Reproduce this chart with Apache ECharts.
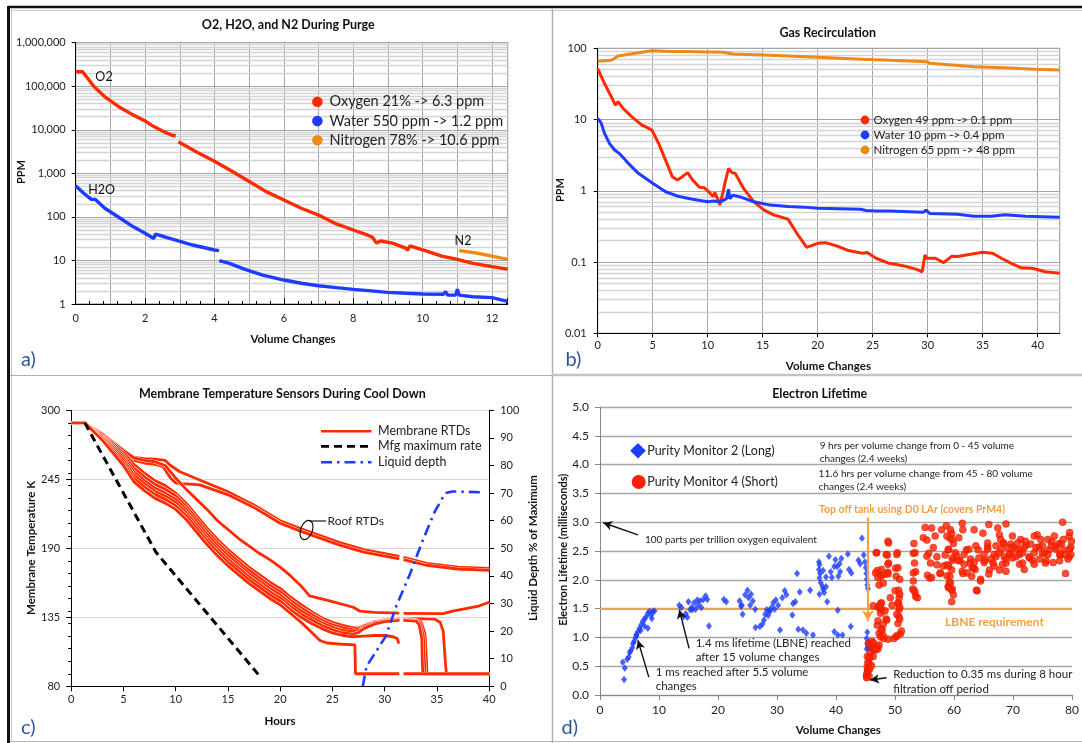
<!DOCTYPE html>
<html><head><meta charset="utf-8">
<script src="https://cdn.jsdelivr.net/npm/echarts@6.0.0/dist/echarts.min.js"></script>
<style>html,body{margin:0;padding:0;background:#fff}#c{width:1082px;height:743px}</style>
</head><body><div id="c"></div>
<script>
// ---------- Panel a: O2, H2O, N2 during purge (x: volume changes, y: ppm, log) ----------
const aNames = ['Oxygen 21% -> 6.3 ppm', 'Water 550 ppm -> 1.2 ppm', 'Nitrogen 78% -> 10.6 ppm'];
const aO2 = [[0,215000],[0.2,215000],[0.35,150000],[0.52,100000],[0.84,57000],[1.24,34000],[1.65,22000],[2.0,16000],[2.2,12500],[2.36,10700],[2.6,8600],[2.76,7600],[2.88,7200],[2.92,'-'],[2.96,5300],[3.47,3150],[4.0,1900],[4.48,1150],[5.0,650],[5.49,380],[6.0,245],[6.5,158],[7.0,110],[7.51,69],[8.0,50],[8.42,38],[8.55,34],[8.67,25],[8.78,28],[9.13,25],[9.53,19],[9.56,17],[9.63,21.5],[10.0,17.4],[10.55,12.6],[11.0,10.6],[11.45,8.6],[12.0,7.2],[12.45,6.3]];
const aH2O = [[0,520],[0.23,350],[0.45,253],[0.56,253],[0.84,158],[1.24,98],[1.65,60],[2.0,42],[2.25,32],[2.3,40],[2.56,35],[2.86,29.6],[3.37,22.6],[4.0,17.4],[4.13,16.8],[4.135,'-'],[4.14,9.9],[4.43,8.6],[4.88,6.25],[5.39,4.6],[6.0,3.55],[6.5,3.0],[7.0,2.63],[7.51,2.37],[8.0,2.17],[8.52,2.0],[8.98,1.85],[9.53,1.76],[10.0,1.7],[10.6,1.67],[10.66,1.92],[10.72,1.6],[10.95,1.6],[11.0,2.17],[11.05,1.6],[11.45,1.47],[12.0,1.4],[12.45,1.15]];
const aN2 = [[11.05,16.8],[11.5,15],[12.0,12.6],[12.45,10.6]];

// ---------- Panel b: gas recirculation ----------
const bNames = ['Oxygen 49 ppm -> 0.1 ppm', 'Water 10 ppm -> 0.4 ppm', 'Nitrogen 65 ppm -> 48 ppm'];
const bN2 = [[0,66],[1.23,68],[1.54,72.5],[1.85,78],[3.4,85],[4.93,92.7],[6.5,90],[8.0,90],[9.9,89],[11.4,88],[12.3,83],[15.1,80.6],[20.0,74.8],[24.05,70],[26.5,67.7],[29.9,65],[30.2,61.6],[34.2,55],[37.0,53.5],[39.8,50.7],[42,49.6]];
const bO2 = [[0,52],[0.62,32],[1.23,21],[1.6,16],[1.85,17.8],[2.3,14.4],[3.08,11],[4.0,8.4],[4.93,7.1],[5.55,4.6],[6.17,2.7],[6.78,1.58],[7.25,1.42],[7.7,1.58],[8.17,1.8],[8.63,1.42],[9.25,1.12],[9.7,1.1],[10.18,0.94],[10.5,0.83],[10.65,0.94],[10.95,0.74],[11.1,0.63],[11.4,0.97],[11.56,1.27],[11.7,1.35],[11.9,2.07],[12.2,1.8],[12.5,1.76],[13.26,1.08],[14.2,0.7],[15.1,0.54],[16.0,0.46],[17.3,0.40],[18.2,0.24],[19.0,0.161],[20.0,0.183],[20.7,0.187],[21.9,0.165],[22.8,0.145],[24.05,0.133],[24.5,0.136],[25.3,0.113],[26.5,0.096],[27.75,0.089],[29.0,0.079],[29.5,0.073],[29.75,0.126],[29.9,0.113],[30.7,0.113],[31.45,0.098],[32.2,0.121],[32.7,0.12],[33.9,0.129],[35.0,0.137],[35.9,0.133],[36.7,0.113],[37.6,0.096],[38.5,0.083],[39.5,0.082],[40.7,0.073],[42,0.0695]];
const bH2O = [[0,10.4],[0.3,9.05],[0.62,6.4],[1.08,4.6],[1.54,3.74],[2.0,3.3],[2.78,2.43],[3.7,1.76],[4.93,1.3],[6.17,0.97],[7.4,0.83],[8.63,0.76],[10.0,0.70],[10.5,0.72],[11.1,0.70],[11.7,0.77],[11.9,1.05],[12.0,0.77],[12.3,0.87],[12.95,0.82],[14.2,0.70],[15.7,0.63],[17.3,0.60],[18.8,0.59],[20,0.57],[21.9,0.56],[23.9,0.55],[24.4,0.53],[25.3,0.52],[26.5,0.52],[29.6,0.50],[29.85,0.535],[30.2,0.48],[32.7,0.47],[34.2,0.44],[35.8,0.44],[37.0,0.46],[38.9,0.44],[42,0.425]];

// ---------- Panel c: membrane temperature sensors during cool down ----------
const cNames = ['Membrane RTDs', 'Mfg maximum rate', 'Liquid depth'];
const cRTD1 = [[0,290],[1.3,290],[3,281],[5,266],[6,257],[7,250],[8,244],[9,240],[10,234],[11,226],[12,216],[13,206],[14,197],[15,189],[16,182],[17,175],[18,169],[19,163],[20,158],[21,151],[22,145],[23,139.5],[24,134.5],[25,131],[26,128.5],[27,126.5],[27.5,126.5],[28,128.5],[29,131.5],[30,133],[31.4,134],[31.6,'-'],[31.8,134],[33,134],[34.8,133.5],[35.3,131],[35.6,124],[35.8,100],[35.9,90],[40,90]];
const cRTD2 = [[0,290],[1.3,290],[3,280],[5,264],[6,254],[7,247],[8,241],[9,237],[10,232],[11,223.5],[12,213.5],[13,203.5],[14,194.5],[15,186.5],[16,179.5],[17,172.5],[18,166.5],[19,160.5],[20,155.5],[21,148.5],[22,142.5],[23,137.5],[24,132.5],[25,129],[26,126.5],[27,125],[27.5,125.5],[28,128],[29,131],[30,132.5],[31.4,133.5],[31.6,'-'],[31.8,133.5],[33,133],[33.5,131],[33.85,122],[34.0,100],[34.05,90],[40,90]];
const cRTD3 = [[0,290],[1.3,290],[3,279],[5,262],[6,251],[7,244],[8,238],[9,234],[10,229],[11,221],[12,211],[13,201],[14,192],[15,184],[16,177],[17,170],[18,164],[19,158],[20,153],[21,146],[22,140],[23,135],[24,130.5],[25,127],[26,124.5],[27,123.5],[27.5,124.5],[28,127],[29,130.5],[30,132],[31.4,133],[31.6,'-'],[31.8,133],[33,132.5],[33.4,130],[33.7,120],[33.8,100],[33.85,90],[40,90]];
const cRTD4 = [[0,290],[1.3,290],[3,278],[5,260],[6,248.5],[7,241.5],[8,235.5],[9,231.5],[10,226.5],[11,218.5],[12,208.5],[13,198.5],[14,189.5],[15,181.5],[16,174.5],[17,167.5],[18,161.5],[19,155.5],[20,150.5],[21,143.5],[22,137.5],[23,133],[24,128.5],[25,125],[26,122.5],[27,121.5],[27.5,123],[28,126],[29,129.5],[30,131.5],[31.4,132.5],[31.6,'-'],[31.8,132.5],[33,132],[33.3,129],[33.55,118],[33.6,100],[33.65,90],[40,90]];
const cRTD5 = [[0,290],[1.3,290],[3,277],[5,258],[6,246],[7,239],[8,233],[9,229],[10,224],[11,216],[12,206],[13,196],[14,187],[15,179],[16,172],[17,165],[18,159],[19,153],[20,148],[21,141],[22,135],[23,130],[24,126],[25,122.5],[26,120.5],[27,119.5],[28,120],[29,120.5],[30,120.5],[30.8,119.5],[31.2,118],[31.35,114]];
const cRTD6 = [[0,290],[1.3,290],[3,276],[5,256],[6,243],[7,236],[8,230],[9,226],[10,221],[11,213],[12,203],[13,193],[14,184],[15,176],[16,169],[17,162],[18,156],[19,150],[20,145],[21,138],[22,131],[23,123],[23.8,116.5],[24.5,114.5],[26,113.5],[27.15,113],[27.2,90],[31.4,90],[31.6,'-'],[31.8,90],[40,90]];
const cRTD7 = [[0,290],[1.3,290],[3,281],[5,268],[6,262],[7,260],[8,259],[9,256],[10,246],[11,237],[12,229],[13,221],[14,212],[15,205],[16,198],[17,192],[18,186],[19,181],[20,175],[21,168],[22,160],[22.8,152],[23.3,151],[25,147.5],[27,143],[27.6,140],[29,139],[31.4,138.3],[31.6,'-'],[31.8,138.2],[35.6,138],[36.5,140],[37.5,141.5],[39,144],[40,147]];
const cRoof1 = [[0,290],[1.3,290],[3,281],[5,268],[6,262.5],[7,261.5],[8,261],[9,260],[9.5,256],[10.4,251],[12.3,244.5],[14.9,235.5],[17.4,225],[20,212],[22,205.5],[25.7,194.5],[28,189],[31.4,183.5],[31.6,'-'],[31.8,182.8],[34,178],[37,175],[40,174]];
const cRoof2 = [[0,290],[1.3,290],[3,281],[5,268],[6,260],[7,258],[8,257],[8.8,255],[9.5,246],[10,242],[10.7,241.5],[12.3,240.5],[14.9,233],[17.4,223],[20,210],[22,203.5],[25.7,192.5],[28,187],[31.4,181.5],[31.6,'-'],[31.8,181],[34,176.5],[37,173.5],[40,172.5]];
const cMfg = [[1.3,290],[8.1,187],[18,88.5]];
const cDepth = [[27.9,0],[28.26,7.2],[30.1,18.1],[31.1,29],[32.45,41],[33.6,52.5],[34.8,63.4],[35.8,70],[36.5,70.6],[39.2,70.3]];

// ---------- Panel d: electron lifetime ----------
const dNames = ['Purity Monitor 2 (Long)', 'Purity Monitor 4 (Short)'];
const dLBNE = 1.5;
const dTopOff = [[45.4,3.08],[45.4,1.28]];
const dPrM2 = [[3.86,0.57],[4.2,0.47],[4.08,0.27],[4.6,0.62],[4.87,0.66],[5.2,0.77],[5.48,0.82],[5.76,0.93],[5.98,0.99],[6.2,1.03],[6.43,1.10],[6.71,1.16],[6.99,1.22],[7.27,1.28],[7.55,1.32],[7.83,1.36],[8.11,1.42],[8.39,1.45],[8.67,1.39],[8.95,1.45],[9.23,1.46],[8.78,1.33],[8.11,1.16],[7.55,1.20],[6.88,1.12],[6.15,1.05],[5.59,0.89],[5.04,0.74],
[13.43,1.56],[13.8,1.52],[14.15,1.36],[14.54,1.41],[14.82,1.35],[15.27,1.48],[15.55,1.52],[15.94,1.60],[16.2,1.49],[16.6,1.56],[16.95,1.63],[17.17,1.52],[17.5,1.66],[17.9,1.72],[18.18,1.66],[18.46,1.20],[14.99,1.62],[16.5,1.65],[15.66,1.48],
[20.98,1.66],[21.4,1.62],[23.66,1.63],[23.9,1.54],[24.17,1.40],[24.6,1.74],[25.0,1.82],[25.2,1.69],[25.6,1.75],[25.9,1.63],[26.3,1.49],[26.35,1.17],[25.45,1.56],[24.05,1.56],
[27.1,1.19],[27.5,1.23],[27.8,1.30],[28.0,1.40],[28.25,1.48],[28.5,1.38],[28.8,1.45],[29.1,1.52],[29.37,1.60],[29.6,1.49],[29.8,1.65],[30.2,1.56],[30.5,1.13],[30.9,1.69],[31.3,1.81],[31.6,1.74],[32.6,1.39],[32.7,1.59],[33.1,1.62],[33.4,2.11],[33.6,1.14],[33.85,1.79],[34.4,1.13],[34.97,1.07],[35.6,1.82],[36.1,1.04],[28.7,1.47],
[37.1,2.31],[37.2,2.26],[37.1,2.18],[37.3,2.11],[37.2,2.03],[37.4,1.95],[37.7,1.89],[37.8,1.83],[38.0,1.78],[38.3,1.88],[38.5,1.62],[38.8,2.41],[39.1,2.14],[39.3,2.04],[39.7,2.23],[39.9,2.35],[40.2,2.23],[40.4,2.06],[40.7,2.14],[40.9,2.37],[40.3,1.47],[39.7,1.10],[40.3,1.04],[41.1,1.04],[42.0,2.45],[42.2,2.18],[42.6,2.12],[42.5,1.19],[43.8,2.34],[44.1,2.28],[44.4,2.72],[44.7,2.43],[44.9,2.31],[45.04,2.21],[45.15,2.11],[45.2,2.01],[45.3,1.91],[45.4,1.85],[37.8,2.16],[38.3,2.05],[40.6,2.28],[37.2,1.75],
[45.3,1.09],[45.2,0.98],[45.3,0.90],[45.4,0.85],[45.5,0.82],[45.2,0.80]];
const dPrM4 = [[45.3,0.38],[45.2,0.32],[45.35,0.43],[45.3,0.49],[45.6,0.55],[45.3,0.67],[45.8,0.72],[45.9,0.84],[45.5,0.90],[46.1,0.93],[45.4,0.57],[45.4,0.42],[45.2,0.36],[45.6,0.33],[45.2,0.30],[45.7,0.45],[46.0,0.51],[45.7,0.65],[46.3,0.80],[46.3,0.91],[47.1,0.80],
[47.0,1.21],[47.3,1.07],[47.55,1.01],[47.8,1.13],[48.1,0.98],[47.1,1.53],[47.4,1.50],[47.6,1.59],[47.8,1.48],[47.55,1.42],[48.6,1.30],[47.0,0.84],[46.4,0.78],[46.3,0.67],[46.7,0.78],[47.3,0.87],
[47.0,2.16],[47.6,2.06],[47.3,1.91],[48.1,2.09],[46.9,2.47],[48.0,1.94],[48.9,2.64],[48.7,2.43],[48.9,2.29],[48.8,2.13],[50.4,2.47],[50.1,2.20],[50.2,2.06],[50.6,1.82],[50.7,1.69],[50.6,1.59],[50.7,1.49],[50.6,1.37],[50.5,1.24],[50.2,1.01],[49.8,0.98],[50.9,1.06],[49.2,1.69],[49.5,1.56],
[46.8,2.47],[46.7,2.12],[47.1,2.04],[47.7,2.18],[48.8,2.67],[48.5,2.44],[48.8,2.27],[48.8,2.10],[50.3,2.44],[50.5,2.21],[50.8,2.01],[50.0,1.81],[50.8,1.75],[50.5,1.60],[50.8,1.52],[50.3,1.40],[50.8,1.32],[51.1,1.11],[50.3,1.03],[48.8,0.97],[48.0,1.03],[47.7,1.14],[48.0,1.23],[47.1,1.29],[48.5,1.32],[47.4,1.55],[47.7,1.60],[46.3,1.55],[48.3,1.46],
[53.2,2.63],[53.1,2.46],[53.3,2.29],[53.5,2.14],[53.2,1.82],[53.5,1.71],[53.8,1.69],[53.1,1.98],[53.0,1.84],[53.4,1.78],[53.4,2.47],[53.1,2.12],
[55.1,2.91],[55.4,2.69],[55.7,2.46],[56.0,2.29],[55.5,2.08],[55.9,2.03],[57.1,2.40],[56.8,2.76],[57.1,2.26],[57.6,2.11],[54.8,2.73],[55.4,2.41],[56.2,2.04],[56.2,2.90],[56.5,2.56],[57.7,2.12],[58.2,2.24],[57.9,2.87],
[58.7,2.94],[59.6,2.81],[59.3,2.72],[59.9,2.63],[59.0,2.52],[58.5,2.43],[59.8,2.34],[58.8,2.26],[59.6,2.17],[59.3,2.06],[59.2,1.95],[59.6,1.82],[59.0,1.88],[59.9,1.74],[59.6,1.62],[58.8,2.76],[59.4,2.87],[59.7,2.70],[59.1,2.53],[59.7,2.38],[59.1,2.24],[58.8,2.07],[59.4,1.95],[59.1,1.86],[59.7,1.84],
[60.4,2.43],[61.0,2.34],[61.5,2.11],[61.4,2.98],[62.1,2.52],[62.7,2.29],[63.3,2.20],[63.0,2.06],[63.8,1.82],[64.1,2.52],[64.9,2.81],[65.2,2.34],[65.7,2.57],[66.0,2.17],[66.6,2.29],[67.1,2.40],[67.7,2.78],[68.3,2.63],[68.0,2.52],[68.5,2.40],[68.8,2.29],[67.7,2.17],[68.8,2.97],[69.4,2.46],[70.0,2.57],[70.5,2.40],[71.1,2.52],[71.6,2.29],[72.2,2.60],[72.7,2.40],[73.3,2.34],[74.1,2.78],[74.4,2.57],[75.0,2.46],[75.5,2.29],[76.1,2.52],[76.6,2.66],[77.2,2.57],[77.8,2.63],[78.4,3.00],[78.6,2.52],[78.9,2.11],[79.5,2.75],[79.8,2.57],[79.5,2.40],[78.0,2.43],
[63.4,2.87],[65.9,2.96],[67.4,2.90],[69.9,2.76],[71.3,2.70],[73.6,2.76],[75.9,2.70],[79.6,2.82],[71.9,2.18],[63.9,1.81],[64.5,1.98],[65.9,2.10],[66.8,2.24],
[61.7,2.44],[62.5,2.53],[61.5,2.87],[60.8,2.73],[62.8,2.36],[63.4,2.30],[63.6,2.18],[62.2,2.12],[64.5,2.01],[65.1,2.44],[65.7,2.53],[66.2,2.36],[67.6,2.47],[68.2,2.27],[68.8,2.15],[69.6,2.62],[70.5,2.53],[71.1,2.44],[71.9,2.56],[72.8,2.38],[73.6,2.47],[74.5,2.36],[75.0,2.59],[75.9,2.44],[76.8,2.30],[77.3,2.53],[78.2,2.62],[78.7,2.44],[79.6,2.53],[79.9,2.67],[79.3,2.36],[77.0,2.76],[74.7,2.70],[72.1,2.67],[69.6,2.44],[68.4,2.64],[67.1,2.59],[65.7,2.64],[63.7,2.59],[64.2,2.38],[61.7,2.27],[60.8,2.33],[60.2,2.47],
[67.9,2.70],[69.1,2.56],[69.9,2.38],[70.8,2.64],[71.6,2.47],[73.0,2.62],[73.9,2.56],[75.3,2.47],[76.5,2.59],[77.9,2.44],[78.5,2.70],[79.8,2.44],[77.9,2.33],[75.6,2.33],[73.6,2.27],[71.1,2.27],[68.8,2.36],[66.8,2.44],[65.1,2.30],[63.1,2.21],[61.4,2.15]];
// annotation arrows (tail -> head) in data coordinates of panel d
const dArrows = [[[6.43,2.78],[0.55,2.99]], [[15.1,0.81],[13.43,1.48]], [[8.27,0.31],[6.43,0.95]], [[48.56,0.30],[45.77,0.26]]];

// ---------- styling ----------
const FONT = 'Lato, "DejaVu Sans", sans-serif';
const RED = '#ff2a00', BLUE = '#1d3cff', ORANGE = '#ee8a1c', LORANGE = '#f5a042', CAP = '#2f5597';
const GRIDC = '#a6a6a6', MINORC = '#d4d4d4';
function logMinor(lo, hi) { const v = []; for (let e = lo; e < hi; e++) { for (let k = 2; k <= 9; k++) v.push({ yAxis: +(k * Math.pow(10, e)).toPrecision(3) }); } return v; }
function commas(v) { return String(Math.round(v)).replace(/\B(?=(\d{3})+(?!\d))/g, ','); }
const lbl = (size, extra) => Object.assign({ fontSize: size, color: '#222', fontFamily: FONT }, extra || {});
function T(text, x, y, font, opts) {
  opts = opts || {};
  return { type: 'text', x: x, y: y, rotation: opts.rot || 0, z: 50,
    style: { text: text, font: font, fill: opts.fill || '#111', align: opts.align || 'center', verticalAlign: 'middle', textAlign: opts.align || 'center', textVerticalAlign: 'middle' } };
}
function L(x1, y1, x2, y2, stroke, w, dash) {
  return { type: 'line', z: 50, shape: { x1: x1, y1: y1, x2: x2, y2: y2 }, style: { stroke: stroke, lineWidth: w, lineDash: dash || null } };
}
function ellipsePts(cx, cy, rx, ry, ang) {
  const p = []; for (let i = 0; i <= 36; i++) { const t = i / 36 * 2 * Math.PI; const x = rx * Math.cos(t), y = ry * Math.sin(t);
    p.push([cx + x * Math.cos(ang) - y * Math.sin(ang), cy + x * Math.sin(ang) + y * Math.cos(ang)]); } return p;
}

const chart = echarts.init(document.getElementById('c'), null, { renderer: 'canvas' });
const lineS = (name, data, xi, yi, color, w, extra) => Object.assign({ name: name, type: 'line', xAxisIndex: xi, yAxisIndex: yi, data: data, showSymbol: false, symbol: 'none', connectNulls: false, lineStyle: { color: color, width: w }, itemStyle: { color: color }, z: 3 }, extra || {});
// each membrane RTD trace: a thin white halo below a red line, so overlapping traces stay distinguishable
const rtd = (data) => [
  lineS(cNames[0] + ' halo', data, 3, 2, '#ffffff', 3.7, { silent: true }),
  lineS(cNames[0], data, 3, 2, RED, 2.8)
];
const cTraces = [cRoof1, cRoof2, cRTD7, cRTD1, cRTD2, cRTD3, cRTD4, cRTD5, cRTD6];

const option = {
  animation: false,
  backgroundColor: '#fff',
  grid: [
    { left: 75.7, top: 42.7, width: 432, height: 261.3, show: true, borderColor: '#7f7f7f', borderWidth: 1 },
    { left: 597.7, top: 48.3, width: 462, height: 285, show: true, borderColor: '#7f7f7f', borderWidth: 1 },
    { left: 71.2, top: 410.3, width: 418, height: 276 },
    { left: 600, top: 407, width: 476.7, height: 288 }
  ],
  xAxis: [
    { gridIndex: 0, type: 'value', min: 0, max: 12.45, interval: 2,
      axisLine: { lineStyle: { color: '#000', width: 1 } }, axisTick: { inside: true, length: 6, lineStyle: { color: '#000' } },
      minorTick: { show: true, splitNumber: 5, length: 3, lineStyle: { color: '#000' } },
      axisLabel: lbl(11, { margin: 9, showMaxLabel: false }), splitLine: { show: false } },
    { gridIndex: 0, type: 'value', min: 0, max: 12.45, interval: 1, position: 'bottom',
      axisLine: { show: false }, axisTick: { show: false }, axisLabel: { show: false },
      splitLine: { show: true, lineStyle: { color: GRIDC, width: 1 } } },
    { gridIndex: 1, type: 'value', min: 0, max: 42, interval: 5,
      axisLine: { lineStyle: { color: '#000' } }, axisTick: { length: 4, lineStyle: { color: '#000' } },
      axisLabel: lbl(11, { margin: 7, showMaxLabel: false }), splitLine: { show: true, lineStyle: { color: GRIDC, width: 1 } } },
    { gridIndex: 2, type: 'value', min: 0, max: 40, interval: 5,
      axisLine: { lineStyle: { color: '#000' } }, axisTick: { length: 5, lineStyle: { color: '#000' } },
      axisLabel: lbl(11, { margin: 8 }), splitLine: { show: false } },
    { gridIndex: 3, type: 'value', min: 0, max: 80, interval: 10,
      axisLine: { lineStyle: { color: '#868686' } }, axisTick: { length: 5, lineStyle: { color: '#868686' } },
      axisLabel: lbl(12, { margin: 9 }), splitLine: { show: false } }
  ],
  yAxis: [
    { gridIndex: 0, type: 'log', logBase: 10, min: 1, max: 1000000,
      axisLine: { show: true, lineStyle: { color: '#000' } }, axisTick: { show: true, length: 4, lineStyle: { color: '#000' } },
      axisLabel: lbl(11, { margin: 10, formatter: commas }), splitLine: { show: true, lineStyle: { color: GRIDC, width: 1 } } },
    { gridIndex: 1, type: 'log', logBase: 10, min: 0.01, max: 100,
      axisLine: { show: true, lineStyle: { color: '#000' } }, axisTick: { show: true, length: 4, lineStyle: { color: '#000' } },
      axisLabel: lbl(11, { margin: 11, formatter: v => String(+(+v).toPrecision(2)) }), splitLine: { show: true, lineStyle: { color: GRIDC, width: 1 } } },
    { gridIndex: 2, type: 'value', min: 80, max: 300, interval: 55, position: 'left',
      axisLine: { show: true, lineStyle: { color: '#000' } }, axisTick: { show: true, length: 5, lineStyle: { color: '#000' } },
      axisLabel: lbl(11, { margin: 11 }), splitLine: { show: true, lineStyle: { color: '#d9d9d9', width: 1.2 } } },
    { gridIndex: 2, type: 'value', min: 80, max: 300, interval: 10, position: 'left',
      axisLine: { show: false }, axisTick: { show: true, length: 3, lineStyle: { color: '#000' } },
      axisLabel: { show: false }, splitLine: { show: false } },
    { gridIndex: 2, type: 'value', min: 0, max: 100, interval: 10, position: 'right',
      axisLine: { show: true, lineStyle: { color: '#000' } }, axisTick: { show: true, length: 5, lineStyle: { color: '#000' } },
      axisLabel: lbl(11, { margin: 11 }), splitLine: { show: false } },
    { gridIndex: 3, type: 'value', min: 0, max: 5, interval: 0.5,
      axisLine: { show: true, lineStyle: { color: '#868686' } }, axisTick: { show: true, length: 5, lineStyle: { color: '#868686' } },
      axisLabel: lbl(12, { margin: 11, formatter: v => (+v).toFixed(1) }), splitLine: { show: true, lineStyle: { color: GRIDC, width: 1.4 } } }
  ],
  series: [
    // panel a
    { type: 'line', xAxisIndex: 0, yAxisIndex: 0, data: [[0, 1]], symbol: 'none', silent: true, lineStyle: { opacity: 0 }, z: 0,
      markLine: { z: 0, silent: true, symbol: 'none', label: { show: false }, lineStyle: { color: MINORC, width: 1.4, type: 'solid' }, data: logMinor(0, 6) } },
    lineS(aNames[0], aO2, 0, 0, RED, 3.4),
    lineS(aNames[1], aH2O, 0, 0, BLUE, 3.4),
    lineS(aNames[2], aN2, 0, 0, ORANGE, 3.4),
    // panel b
    { type: 'line', xAxisIndex: 2, yAxisIndex: 1, data: [[0, 1]], symbol: 'none', silent: true, lineStyle: { opacity: 0 }, z: 0,
      markLine: { z: 0, silent: true, symbol: 'none', label: { show: false }, lineStyle: { color: MINORC, width: 1.4, type: 'solid' }, data: logMinor(-2, 2) } },
    lineS(bNames[2], bN2, 2, 1, ORANGE, 3),
    lineS(bNames[0], bO2, 2, 1, RED, 3),
    lineS(bNames[1], bH2O, 2, 1, BLUE, 3),
    // panel c
    ...cTraces.flatMap(rtd),
    lineS(cNames[1], cMfg, 3, 2, '#000', 3, { lineStyle: { color: '#000', width: 3, type: [8, 5] } }),
    lineS(cNames[2], cDepth, 3, 4, BLUE, 2.6, { lineStyle: { color: BLUE, width: 2.6, type: [11, 5, 2.5, 5] } }),
    // panel d
    { type: 'line', xAxisIndex: 4, yAxisIndex: 5, data: [[0, 0]], symbol: 'none', silent: true, lineStyle: { opacity: 0 }, z: 1,
      markLine: { z: 1, silent: true, symbol: 'none', label: { show: false }, lineStyle: { color: LORANGE, width: 2, type: 'solid' }, data: [{ yAxis: dLBNE }] } },
    { name: dNames[0], type: 'scatter', xAxisIndex: 4, yAxisIndex: 5, data: dPrM2, symbol: 'diamond', symbolSize: [6, 7.5],
      itemStyle: { color: BLUE }, z: 4 },
    { name: dNames[1], type: 'scatter', xAxisIndex: 4, yAxisIndex: 5, data: dPrM4, symbol: 'circle', symbolSize: 7,
      itemStyle: { color: '#ff2200', borderColor: '#d81a00', borderWidth: 0.6 }, z: 5 },
    { type: 'line', xAxisIndex: 4, yAxisIndex: 5, data: [[0, 0]], symbol: 'none', silent: true, lineStyle: { opacity: 0 }, z: 6,
      markLine: { z: 6, silent: true, symbol: ['none', 'arrow'], symbolSize: [9, 11], label: { show: false },
        lineStyle: { color: LORANGE, width: 2.2, type: 'solid' },
        data: [[{ coord: dTopOff[0] }, { coord: dTopOff[1] }]] } },
    { type: 'line', xAxisIndex: 4, yAxisIndex: 5, data: [[0, 0]], symbol: 'none', silent: true, lineStyle: { opacity: 0 }, z: 7,
      markLine: { z: 7, silent: true, symbol: ['none', 'arrow'], symbolSize: [7, 9], label: { show: false },
        lineStyle: { color: '#111', width: 1.4, type: 'solid' },
        data: dArrows.map(a => [{ coord: a[0] }, { coord: a[1] }]) } }
  ],
  graphic: { elements: [
    // frame lines
    L(8, 7, 1082, 7, '#111', 2.5), L(8.5, 6, 8.5, 743, '#111', 3),
    L(11.5, 9, 11.5, 741, '#c8c8c8', 1), L(11, 10.5, 1082, 10.5, '#c8c8c8', 1),
    L(552.5, 9, 552.5, 743, '#b0b0b0', 1.5),
    L(10, 375.5, 552, 375.5, '#b0b0b0', 1.2), L(552, 375, 1082, 375, '#c4c4c4', 2.5),
    L(10, 741.5, 1082, 741.5, '#b8b8b8', 1.2),
    // panel a texts
    T('O2, H2O, and N2 During Purge', 288.3, 25, 'bold 12.5px ' + FONT),
    T('PPM', 21, 172, 'bold 11px ' + FONT, { rot: Math.PI / 2 }),
    T('Volume Changes', 293, 339, 'bold 11.5px ' + FONT),
    T('O2', 104, 77, '12.5px ' + FONT),
    T('H2O', 101.7, 190, '12.5px ' + FONT),
    T('N2', 463, 241, '12.5px ' + FONT),
    { type: 'circle', z: 50, shape: { cx: 317.4, cy: 101.7, r: 5.3 }, style: { fill: RED } },
    { type: 'circle', z: 50, shape: { cx: 317.4, cy: 121, r: 5.3 }, style: { fill: BLUE } },
    { type: 'circle', z: 50, shape: { cx: 317.4, cy: 140.3, r: 5.3 }, style: { fill: ORANGE } },
    T(aNames[0], 329.6, 101.7, '14.5px ' + FONT, { align: 'left', fill: '#222' }),
    T(aNames[1], 329.6, 121, '14.5px ' + FONT, { align: 'left', fill: '#222' }),
    T(aNames[2], 329.6, 140.3, '14.5px ' + FONT, { align: 'left', fill: '#222' }),
    T('a)', 21, 360, '20px ' + FONT, { align: 'left', fill: CAP }),
    // panel b texts
    T('Gas Recirculation', 827.7, 32.7, 'bold 12.5px ' + FONT),
    T('PPM', 560.4, 190, 'bold 11px ' + FONT, { rot: Math.PI / 2 }),
    T('Volume Changes', 828.4, 366, 'bold 11.5px ' + FONT),
    { type: 'circle', z: 50, shape: { cx: 865, cy: 120, r: 4.4 }, style: { fill: RED } },
    { type: 'circle', z: 50, shape: { cx: 865, cy: 135, r: 4.4 }, style: { fill: BLUE } },
    { type: 'circle', z: 50, shape: { cx: 865, cy: 150, r: 4.4 }, style: { fill: ORANGE } },
    T(bNames[0], 873.5, 120, '11.5px ' + FONT, { align: 'left', fill: '#222' }),
    T(bNames[1], 873.5, 135, '11.5px ' + FONT, { align: 'left', fill: '#222' }),
    T(bNames[2], 873.5, 150, '11.5px ' + FONT, { align: 'left', fill: '#222' }),
    T('b)', 565.5, 360, '20px ' + FONT, { align: 'left', fill: CAP }),
    // panel c texts
    T('Membrane Temperature Sensors During Cool Down', 282.3, 393.7, 'bold 12.5px ' + FONT),
    T('Membrane Temperature K', 30.9, 548, 'bold 11.5px ' + FONT, { rot: Math.PI / 2 }),
    T('Liquid Depth % of Maximum', 533, 548, 'bold 11.5px ' + FONT, { rot: Math.PI / 2 }),
    T('Hours', 280, 721.3, 'bold 11.5px ' + FONT),
    L(321, 431.3, 371.5, 431.3, RED, 2.6),
    L(321, 446.3, 371.5, 446.3, '#000', 2.8, [8, 5]),
    L(321, 462.3, 371.5, 462.3, BLUE, 2.6, [11, 5, 2.5, 5]),
    T(cNames[0], 378, 431.3, '12.5px ' + FONT, { align: 'left', fill: '#222' }),
    T(cNames[1], 378, 446.3, '12.5px ' + FONT, { align: 'left', fill: '#222' }),
    T(cNames[2], 378, 462.3, '12.5px ' + FONT, { align: 'left', fill: '#222' }),
    { type: 'polyline', z: 50, shape: { points: ellipsePts(306.5, 530, 5.8, 10, 0.35) }, style: { stroke: '#000', lineWidth: 1.1, fill: null } },
    L(309.5, 521, 326, 521, '#000', 1.1),
    T('Roof RTDs', 327.5, 521.5, '12px ' + FONT, { align: 'left', fill: '#222' }),
    T('c)', 21, 727.5, '20px ' + FONT, { align: 'left', fill: CAP }),
    // panel d texts
    T('Electron Lifetime', 819.7, 393.7, 'bold 12.5px ' + FONT),
    T('Electron Lifetime (milliseconds)', 563.3, 549.7, 'bold 11px ' + FONT, { rot: Math.PI / 2 }),
    T('Volume Changes', 838.3, 730.3, 'bold 11.5px ' + FONT),
    { type: 'polygon', z: 50, shape: { points: [[638, 443], [645.8, 450.7], [638, 458.4], [630.2, 450.7]] }, style: { fill: BLUE } },
    { type: 'circle', z: 50, shape: { cx: 638.7, cy: 482, r: 7 }, style: { fill: '#ff2200' } },
    T(dNames[0], 647.2, 451, '12.5px ' + FONT, { align: 'left', fill: '#222' }),
    T(dNames[1], 647.2, 482, '12.5px ' + FONT, { align: 'left', fill: '#222' }),
    T('9 hrs per volume change from 0 - 45 volume', 819.7, 445.7, '10px ' + FONT, { align: 'left', fill: '#222' }),
    T('changes (2.4 weeks)', 819.7, 458.3, '10px ' + FONT, { align: 'left', fill: '#222' }),
    T('11.6 hrs per volume change from 45 - 80 volume', 818.6, 473.7, '10px ' + FONT, { align: 'left', fill: '#222' }),
    T('changes (2.4 weeks)', 818.6, 486.3, '10px ' + FONT, { align: 'left', fill: '#222' }),
    T('Top off tank using D0 LAr (covers PrM4)', 912, 509.7, 'bold 10.5px ' + FONT, { fill: LORANGE }),
    T('LBNE requirement', 994.5, 622.3, 'bold 12px ' + FONT, { fill: LORANGE }),
    T('100 parts per trillion oxygen equivalent', 645, 539.3, '10px ' + FONT, { align: 'left', fill: '#222' }),
    T('1.4 ms lifetime (LBNE) reached', 695.7, 643.3, '11.5px ' + FONT, { align: 'left', fill: '#222' }),
    T('after 15 volume changes', 695.7, 657.7, '11.5px ' + FONT, { align: 'left', fill: '#222' }),
    T('1 ms reached after 5.5 volume', 655.7, 672.7, '11.5px ' + FONT, { align: 'left', fill: '#222' }),
    T('changes', 655.7, 686.5, '11.5px ' + FONT, { align: 'left', fill: '#222' }),
    T('Reduction to 0.35 ms during 8 hour', 893.3, 674.3, '11.5px ' + FONT, { align: 'left', fill: '#222' }),
    T('filtration off period', 893.3, 689, '11.5px ' + FONT, { align: 'left', fill: '#222' }),
    T('d)', 561.6, 727.5, '20px ' + FONT, { align: 'left', fill: CAP })
  ] }
};
chart.setOption(option);
</script></body></html>
